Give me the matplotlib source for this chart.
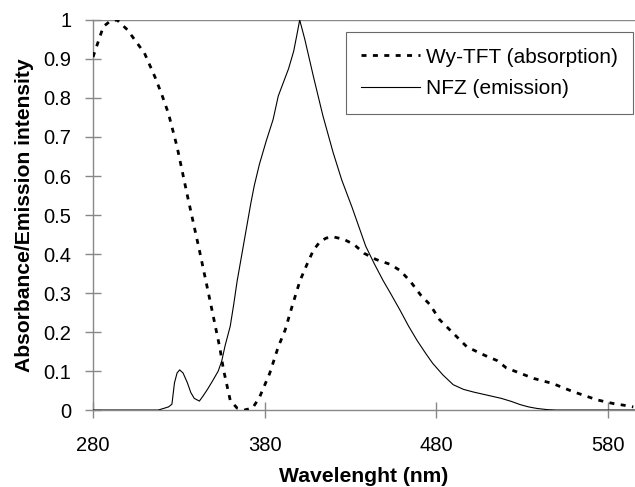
import matplotlib
matplotlib.use("Agg")
import matplotlib.pyplot as plt
from matplotlib.ticker import FixedLocator

plt.rcParams['font.family'] = ['Liberation Sans', 'DejaVu Sans']

# Wy-TFT absorption
abs_wl = [280, 286, 290, 294, 300, 305, 310, 316, 320, 324, 329, 335, 338.5, 342,
          348, 354, 356, 360, 364, 368, 373, 377, 383, 388, 392, 396, 400.7, 404.6,
          408.5, 412.4, 416, 420, 426, 432, 438, 445, 453, 459, 465, 471, 476.5, 482,
          490, 498, 508, 515.5, 521, 537, 548, 560, 574, 583, 590, 595]
abs_val = [0.905, 0.983, 0.997, 1.0, 0.975, 0.945, 0.915, 0.855, 0.81, 0.76, 0.675, 0.55, 0.48, 0.41,
           0.285, 0.158, 0.105, 0.025, 0.005, 0.0, 0.005, 0.032, 0.094, 0.162, 0.205, 0.265, 0.332, 0.372,
           0.41, 0.432, 0.441, 0.444, 0.438, 0.425, 0.402, 0.386, 0.374, 0.358, 0.33, 0.295, 0.27, 0.232,
           0.197, 0.162, 0.141, 0.127, 0.108, 0.081, 0.068, 0.047, 0.026, 0.017, 0.012, 0.008]

# NFZ emission
em_wl = [280, 318, 321, 324, 326, 327.5, 329, 330.5, 332.5, 335, 337, 339, 342, 344, 347,
         350, 353, 355, 357, 360, 362, 364, 366, 368, 370, 372, 374, 377, 381, 385, 388,
         391, 394, 397, 399, 400.5, 403.5, 408.5, 414, 420, 425, 431, 435, 439, 444, 449,
         454, 459, 464, 469, 474, 478, 484, 490, 496, 502, 510, 518, 524, 529, 534, 539,
         545, 550, 596]
em_val = [0, 0, 0.004, 0.008, 0.015, 0.07, 0.095, 0.103, 0.095, 0.07, 0.045, 0.03, 0.023, 0.035, 0.055,
          0.077, 0.1, 0.125, 0.165, 0.215, 0.27, 0.33, 0.38, 0.43, 0.48, 0.53, 0.575, 0.63, 0.69, 0.745, 0.805,
          0.84, 0.875, 0.92, 0.965, 1.0, 0.95, 0.855, 0.755, 0.66, 0.59, 0.52, 0.47, 0.42, 0.375, 0.333,
          0.295, 0.256, 0.215, 0.178, 0.145, 0.12, 0.09, 0.065, 0.053, 0.046, 0.038, 0.03, 0.022, 0.014, 0.008, 0.004,
          0.001, 0, 0]

x_ticks = [280, 380, 480, 580]
y_ticks = [0, 0.1, 0.2, 0.3, 0.4, 0.5, 0.6, 0.7, 0.8, 0.9, 1]
y_tick_labels = ["0", "0.1", "0.2", "0.3", "0.4", "0.5", "0.6", "0.7", "0.8", "0.9", "1"]

fig = plt.figure(figsize=(6.35, 4.87), dpi=100)
ax = fig.add_axes([0.1465, 0.158, 0.8535, 0.801])

gray = '#888888'
ax.axhline(1.0, color=gray, lw=1.0, zorder=1)
ax.plot(abs_wl, abs_val, color='black', lw=2.0, linestyle=(0, (1.8, 2.3)),
        label='Wy-TFT (absorption)', zorder=3)
ax.plot(em_wl, em_val, color='black', lw=0.8, label='NFZ (emission)', zorder=3)

ax.set_xlim(280, 596)
ax.set_ylim(0, 1)
ax.xaxis.set_major_locator(FixedLocator(x_ticks))
ax.set_yticks(y_ticks)
ax.set_yticklabels(y_tick_labels)

for s in ['top', 'right']:
    ax.spines[s].set_visible(False)
for s in ['left', 'bottom']:
    ax.spines[s].set_color(gray)
    ax.spines[s].set_linewidth(1.0)
ax.spines['left'].set_zorder(0.5)

ax.tick_params(axis='both', direction='inout', length=11, width=1.0, color=gray,
               labelsize=14.5, labelcolor='black')
ax.tick_params(axis='x', pad=13)
ax.tick_params(axis='y', pad=10)

ax.set_xlabel('Wavelenght (nm)', fontsize=15.2, fontweight='bold', labelpad=8.5)
ax.set_ylabel('Absorbance/Emission intensity', fontsize=15.2, fontweight='bold', labelpad=7)

leg = ax.legend(loc='upper left', bbox_to_anchor=(0.466, 0.969), borderaxespad=0,
                fontsize=15, frameon=True, fancybox=False, handlelength=2.8,
                handletextpad=0.3, labelspacing=0.6, borderpad=0.75)
leg.get_frame().set_edgecolor('#444444')
leg.get_frame().set_linewidth(0.8)

fig.savefig('out.png', dpi=100)
